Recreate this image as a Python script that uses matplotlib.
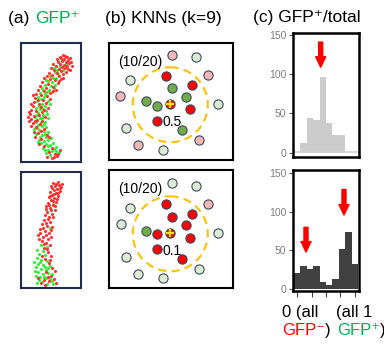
import numpy as np
import matplotlib
matplotlib.use('Agg')
import matplotlib.pyplot as plt
from matplotlib.patches import Circle
from matplotlib.text import Annotation

W, H = 384, 345
FONT = ['Liberation Sans', 'DejaVu Sans']

# ---- panel (a): cell positions (pixel coords) ----
a_top_red = [(63, 55), (65, 56), (67, 57), (61, 58), (64, 59), (68, 60), (62, 61), (66, 62),
             (58, 62), (69, 63), (60, 64), (64, 65), (67, 66), (56, 66), (62, 67), (65, 68),
             (59, 69), (68, 69), (54, 70), (61, 71), (66, 72), (57, 73), (63, 74), (52, 75),
             (59, 76), (44, 78), (50, 79), (55, 80), (61, 79), (42, 82), (48, 84), (58, 83),
             (40, 86), (46, 88), (53, 87), (38, 90), (44, 91), (56, 90), (36, 94), (41, 95),
             (47, 96), (35, 98), (43, 100), (50, 99), (34, 102), (39, 104), (46, 103), (33, 106),
             (41, 107), (48, 108), (31, 110), (36, 111), (42, 112), (30, 114), (34, 116), (39, 115),
             (45, 117), (31, 119), (37, 120), (42, 121), (33, 123), (40, 124), (36, 127), (44, 129),
             (38, 133), (47, 135), (41, 139), (35, 137), (44, 146), (52, 148), (49, 152), (55, 154),
             (57, 156), (54, 157),
             (70, 58), (71, 62), (72, 66), (70, 70), (60, 57), (57, 59), (53, 64), (51, 68),
             (49, 73), (47, 76), (63, 78), (59, 81), (53, 91), (50, 93), (33, 95), (38, 100),
             (31, 104), (44, 110), (29, 112), (28, 117), (35, 121), (29, 121), (31, 126), (41, 131),
             (34, 132), (49, 137), (39, 144), (47, 157), (52, 158), (58, 154), (60, 150)]
a_top_green = [(58, 61), (60, 66), (57, 70), (63, 70), (55, 72), (50, 76), (56, 78), (48, 81),
               (52, 82), (45, 85), (51, 86), (55, 85), (42, 88), (49, 90), (52, 92), (40, 93),
               (45, 94), (38, 97), (44, 97), (48, 101), (37, 101), (42, 104), (45, 106), (36, 108),
               (40, 109), (46, 111), (38, 113), (43, 115), (35, 117), (40, 118), (45, 122), (38, 125),
               (42, 126), (46, 127), (34, 129), (39, 130), (44, 131), (48, 132), (36, 134), (42, 135),
               (46, 137), (39, 140), (44, 141), (48, 140), (41, 143), (46, 144), (50, 145), (43, 148),
               (48, 150), (52, 151), (46, 153), (50, 155), (56, 151), (59, 152),
               (62, 60), (66, 64), (54, 68), (58, 74), (53, 78), (46, 80), (54, 88), (43, 90),
               (47, 92), (41, 99), (50, 104), (39, 106), (43, 109), (47, 114), (37, 115), (42, 118),
               (48, 118), (36, 122), (41, 122), (44, 124), (37, 128), (45, 134), (40, 137), (51, 138),
               (38, 142), (53, 143), (45, 150), (54, 149), (48, 146), (56, 147)]
a_bot_red = [(53, 183), (56, 184), (59, 185), (55, 186), (61, 187), (52, 188), (57, 189), (54, 190),
             (60, 191), (50, 192), (56, 193), (52, 195), (58, 196), (49, 197), (54, 198), (51, 200),
             (56, 202), (48, 203), (53, 205), (46, 206), (50, 208), (55, 210), (47, 212), (52, 214),
             (45, 215), (49, 217), (44, 220), (50, 222), (42, 224), (47, 226), (52, 227), (40, 229),
             (45, 231), (49, 233), (38, 235), (43, 237), (48, 239), (42, 241), (46, 243), (50, 245),
             (44, 248), (48, 252), (51, 256), (45, 259), (49, 263), (52, 268), (46, 272), (51, 276),
             (38, 278), (44, 280), (49, 281), (54, 279), (41, 283),
             (58, 182), (62, 184), (60, 188), (51, 186), (58, 193), (54, 194), (50, 196), (57, 199),
             (53, 201), (49, 205), (55, 206), (51, 210), (46, 209), (53, 217), (48, 219), (46, 223),
             (51, 230), (43, 228), (40, 233), (46, 235), (51, 237), (39, 239), (44, 244), (47, 249),
             (42, 256), (50, 260), (55, 271), (48, 277), (56, 283), (45, 285)]
a_bot_green = [(53, 204), (50, 228), (41, 245), (37, 250), (43, 251), (39, 254), (45, 255), (37, 258),
               (41, 260), (47, 261), (38, 264), (43, 265), (36, 267), (41, 269), (46, 270), (38, 272),
               (43, 274), (48, 273), (36, 276), (40, 277), (46, 278), (52, 274), (42, 282), (47, 284),
               (53, 284), (47, 247), (34, 262), (40, 262), (35, 271), (45, 267), (50, 266), (39, 280),
               (44, 277), (50, 279), (37, 283), (52, 281), (48, 268)]

# ---- panel (b): KNN schematic ----
b_top_red = [(166, 75.7), (192.3, 85), (190.3, 109.3), (157, 121)]
b_top_green = [(171.7, 88.3), (185.7, 96.7), (146, 101), (156.7, 106), (182.3, 130)]
b_top_pale = [(196, 57.3), (130, 80), (217.7, 104), (125.7, 128.3), (162.7, 150)]
b_top_pink = [(172.3, 55), (208.3, 75), (120, 95.7), (199.3, 140), (138.3, 145)]
b_top_center = (170.3, 104.3)
b_bot_red = [(166, 204), (192.3, 214), (171.7, 217.3), (185.7, 225), (156.7, 234.3),
             (190.3, 237.7), (157, 249.3), (182.3, 259)]
b_bot_green = [(146, 230.7)]
b_bot_pale = [(172.3, 183.3), (196, 185.7), (130, 208.3), (121, 224), (217.7, 232.7),
              (125.7, 257), (199.3, 269), (138.3, 274), (162.7, 278.3)]
b_bot_pink = [(208.3, 204)]
b_bot_center = (170.3, 233.3)
b_top_score, b_bot_score = '0.5', '0.1'

# ---- panel (c): histograms ----
bin_centers = np.arange(10) / 9
top_counts = [0, 12, 44, 42, 96, 38, 22, 22, 0, 0]
bot_counts = [21, 30, 26, 30, 9, 5, 13, 52, 74, 33]
yticks = [0, 50, 100, 150]
xticks = [0, 0.25, 0.5, 0.75, 1]

fig = plt.figure(figsize=(W / 100, H / 100), dpi=100)


def pix_axes(x0, y0, x1, y1):
    return fig.add_axes([x0 / W, 1 - y1 / H, (x1 - x0) / W, (y1 - y0) / H])


def ftext(x, y, s, **kw):
    kw.setdefault('family', FONT)
    return fig.text(x / W, 1 - y / H, s, **kw)


def close_paren(prev, size):
    # black ")" right after a coloured word
    fig.add_artist(Annotation(')', xy=(1, 0), xycoords=prev, ha='left', va='bottom',
                              fontsize=size, family=FONT))


# panel (a)
for (x0, y0, x1, y1), red, green in [((21, 43, 81, 162), a_top_red, a_top_green),
                                     ((21, 172, 81, 288), a_bot_red, a_bot_green)]:
    ax = pix_axes(x0, y0, x1, y1)
    ax.set_xlim(x0, x1)
    ax.set_ylim(y1, y0)
    r = np.array(red)
    g = np.array(green)
    ax.scatter(g[:, 0], g[:, 1], s=5, color='#33ee33', linewidths=0)
    ax.scatter(r[:, 0], r[:, 1], s=5, color='#ff3030', linewidths=0)
    ax.set_xticks([])
    ax.set_yticks([])
    for sp in ax.spines.values():
        sp.set_color('#1f2d4d')
        sp.set_linewidth(1.5)

ftext(8.3, 18.5, '(a) ', fontsize=12.5, va='center')
ftext(35, 18.5, 'GFP\u207a', fontsize=12.5, va='center', color='#00b050')

# panel (b)
edge = '#3a4a60'
for (x0, y0, x1, y1), red, green, pale, pink, cen, score in [
        ((109, 43, 233, 160), b_top_red, b_top_green, b_top_pale, b_top_pink, b_top_center, b_top_score),
        ((109, 170, 233, 288), b_bot_red, b_bot_green, b_bot_pale, b_bot_pink, b_bot_center, b_bot_score)]:
    ax = pix_axes(x0, y0, x1, y1)
    ax.set_xlim(x0, x1)
    ax.set_ylim(y1, y0)
    ax.add_patch(Circle((cen[0], cen[1] + 0.5), 37.5, fill=False, edgecolor='#ffc000',
                        lw=1.5, ls=(0, (4, 2.5)), zorder=1))
    for pts, col in [(pale, '#dfecd5'), (pink, '#f4b6b6'), (green, '#70ad47'), (red, '#ff0000')]:
        p = np.array(pts)
        ax.scatter(p[:, 0], p[:, 1], s=44, color=col, edgecolors=edge, linewidths=0.8, zorder=3)
    ax.scatter([cen[0]], [cen[1]], s=44, color='#ff0000', edgecolors=edge, linewidths=0.8, zorder=3)
    ax.scatter([cen[0]], [cen[1]], s=30, marker='+', color='#ffe600', linewidths=1.6, zorder=4)
    ax.text(x0 + 9, y0 + 19, '(10/20)', fontsize=10, va='center', family=FONT)
    ax.text(cen[0] - 7.5, cen[1] + 17.5, score, fontsize=10, va='center', family=FONT, zorder=5)
    ax.set_xticks([])
    ax.set_yticks([])
    for sp in ax.spines.values():
        sp.set_color('black')
        sp.set_linewidth(1.5)

ftext(105, 18.5, '(b) KNNs (k=9)', fontsize=12.5, va='center')

# panel (c)
arrow = dict(arrowstyle='simple,head_length=0.75,head_width=0.72,tail_width=0.29',
             color='#ff0000', shrinkA=0, shrinkB=0, mutation_scale=10)
for (x0, y0, x1, y1), counts, col, ylim, arrows, xt in [
        ((292.7, 33.3, 359, 156.7), top_counts, '#cccccc', (-5.1, 152.2), [(0.408, 141, 109)], False),
        ((292.7, 170, 359, 291), bot_counts, '#404040', (-2.5, 154.3),
         [(0.153, 80, 48), (0.8125, 129, 96)], True)]:
    ax = pix_axes(x0, y0, x1, y1)
    ax.bar(bin_centers, counts, width=1 / 9, color=col, linewidth=0)
    if not xt:
        ax.axhline(0.5, color='#d0d0d0', lw=1.2)
    ax.set_xlim(-0.078, 1.073)
    ax.set_ylim(*ylim)
    ax.set_yticks(yticks)
    ax.tick_params(axis='y', length=3, width=0.8, color='#555555', pad=1.5,
                   labelsize=7.5, labelcolor='#7f7f7f')
    for lb in ax.get_yticklabels():
        lb.set_family(FONT)
    if xt:
        ax.set_xticks(xticks)
        ax.set_xticklabels([])
        ax.tick_params(axis='x', length=4, width=0.8, color='#444444')
    else:
        ax.set_xticks([])
    for sp in ax.spines.values():
        sp.set_color('black')
        sp.set_linewidth(1.8)
    for x, ya, yb in arrows:
        ax.annotate('', xy=(x, yb), xytext=(x, ya), arrowprops=arrow)

ftext(253, 17.5, '(c) GFP\u207a/total', fontsize=12.5, va='center')
ftext(281.7, 312.5, '0 (all', fontsize=12, va='center')
ftext(335.5, 312.5, '(all 1', fontsize=12, va='center')
g1 = ftext(281.7, 330.5, 'GFP\u207b', fontsize=12, va='center', color='#ff0000')
close_paren(g1, 12)
g2 = ftext(336.7, 330.5, 'GFP\u207a', fontsize=12, va='center', color='#00b050')
close_paren(g2, 12)

fig.savefig('out.png', dpi=100)
